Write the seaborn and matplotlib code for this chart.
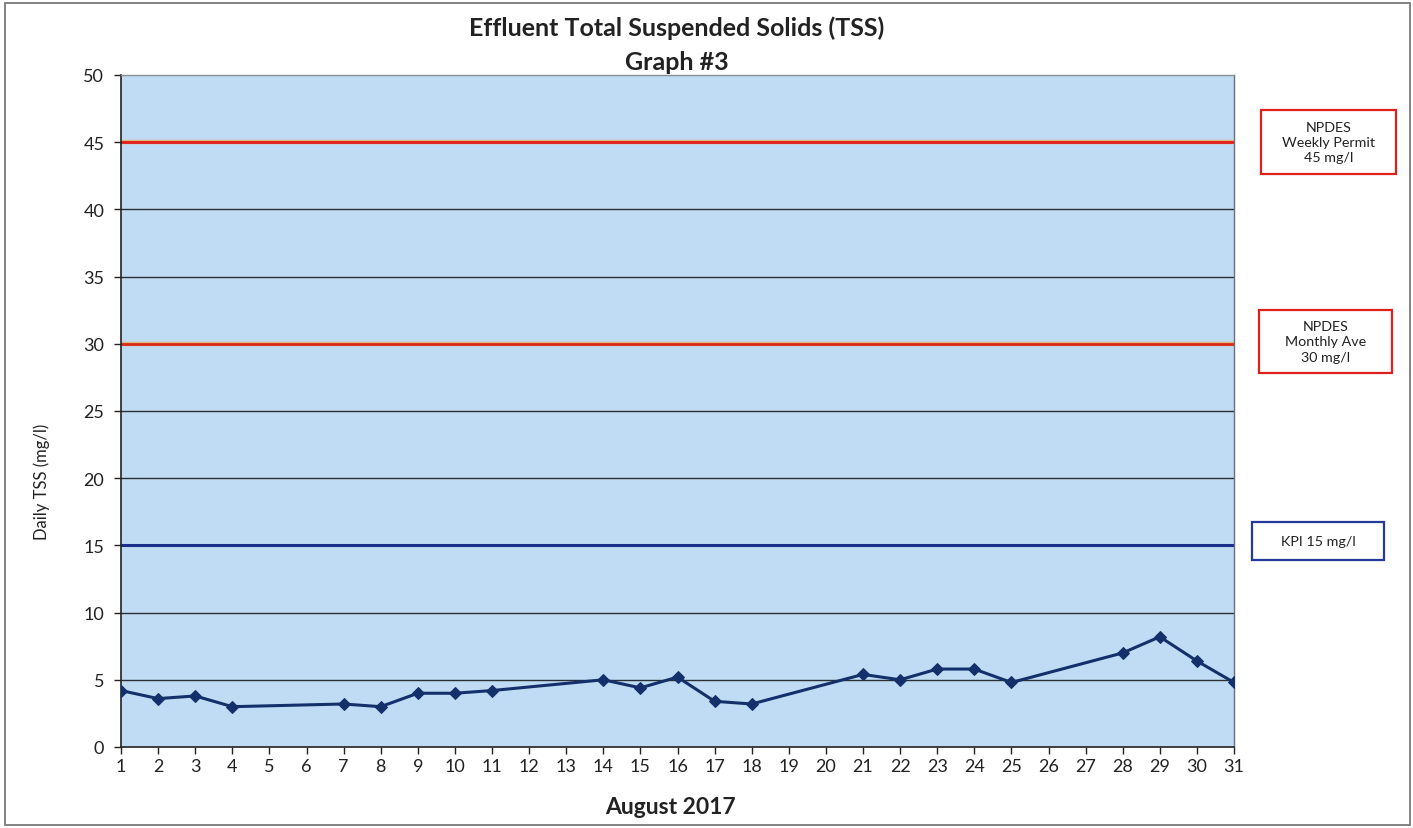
import numpy as np
import pandas as pd
import matplotlib
matplotlib.use("Agg")
import matplotlib.pyplot as plt
from matplotlib.patches import Rectangle
import seaborn as sns

# Daily effluent TSS readings, August 2017 (days without a sample are skipped)
days = [1, 2, 3, 4, 7, 8, 9, 10, 11, 14, 15, 16, 17, 18, 21, 22, 23, 24, 25, 28, 29, 30, 31]
tss = [4.2, 3.6, 3.8, 3.0, 3.2, 3.0, 4.0, 4.0, 4.2, 5.0, 4.4, 5.2, 3.4, 3.2,
       5.4, 5.0, 5.8, 5.8, 4.8, 7.0, 8.2, 6.4, 4.8]

# Reference limits
weekly_permit = 45
monthly_ave = 30
kpi = 15
limit_labels = ["NPDES\nWeekly Permit\n45 mg/l", "NPDES\nMonthly Ave\n30 mg/l", "KPI 15 mg/l"]

y_ticks = list(range(0, 51, 5))
x_ticks = list(range(1, 32))

sns.set_theme(style="ticks")
plt.rcParams["font.family"] = ["Lato", "DejaVu Sans"]

df = pd.DataFrame({"day": days, "tss": tss})

fig = plt.figure(figsize=(14.13, 8.29), dpi=100)
ax = fig.add_axes([121 / 1413, 1 - 748 / 829, (1234 - 121) / 1413, (748 - 76) / 829])
ax.set_facecolor("#bfdcf4")

# plain gridlines
for v in y_ticks:
    if v in (0, 50, weekly_permit, monthly_ave, kpi):
        continue
    ax.axhline(v, color="#2b2f33", lw=1.0, zorder=1)

# limit lines
ax.axhline(weekly_permit, color="#f0a030", lw=3.2, alpha=0.6, zorder=1.5)
ax.axhline(weekly_permit, color="#e3191c", lw=2.0, zorder=2)
ax.axhline(monthly_ave, color="#f0a030", lw=3.2, alpha=0.6, zorder=1.5)
ax.axhline(monthly_ave, color="#dc2a1a", lw=2.0, zorder=2)
ax.axhline(kpi, color="#1c2f8c", lw=2.2, zorder=2)

sns.lineplot(data=df, x="day", y="tss", ax=ax, color="#14306b", lw=2.2,
             marker="D", markersize=6, markeredgecolor="#14306b", zorder=5)

ax.set_xlim(1, 31)
ax.set_ylim(0, 50)
ax.set_xticks(x_ticks)
ax.set_yticks(y_ticks)
ax.tick_params(axis="both", direction="out", length=5, width=1, color="#222222",
               labelsize=13, labelcolor="#222222")
ax.tick_params(axis="x", pad=3)
ax.tick_params(axis="y", pad=7)
ax.set_xlabel("")
ax.set_ylabel("")
for side in ("left", "bottom"):
    ax.spines[side].set_color("#222222")
    ax.spines[side].set_linewidth(1.2)
ax.spines["top"].set_visible(True)
ax.spines["top"].set_color("#8a8f96")
ax.spines["top"].set_linewidth(1.0)
ax.spines["right"].set_visible(True)
ax.spines["right"].set_color("#6a7078")
ax.spines["right"].set_linewidth(1.0)

# titles and axis labels
fig.text(677 / 1413, 1 - 28 / 829, "Effluent Total Suspended Solids (TSS)",
         ha="center", va="center", fontsize=18, fontweight="bold", color="#222222")
fig.text(677 / 1413, 1 - 62 / 829, "Graph #3",
         ha="center", va="center", fontsize=18, fontweight="bold", color="#222222")
fig.text(670 / 1413, 1 - 808 / 829, "August 2017",
         ha="center", va="center", fontsize=16.5, fontweight="bold", color="#222222")
fig.text(42 / 1413, 1 - 482 / 829, "Daily TSS (mg/l)", rotation=90,
         ha="center", va="center", fontsize=12, color="#222222")

# limit annotation boxes
boxes = [
    (1261, 111, 1396, 175, "#e0201c"),
    (1259, 311, 1392, 374, "#e0201c"),
    (1252, 523, 1384, 561, "#233a9a"),
]
for (x0, y0, x1, y1, ec), label in zip(boxes, limit_labels):
    fig.patches.append(Rectangle((x0 / 1413, 1 - y1 / 829), (x1 - x0) / 1413, (y1 - y0) / 829,
                                 transform=fig.transFigure, fill=False, ec=ec, lw=1.6))
    fig.text((x0 + x1) / 2 / 1413, 1 - (y0 + y1) / 2 / 829, label, ha="center", va="center",
             fontsize=10.3, color="#222222", linespacing=1.35)

# outer frame
fig.patches.append(Rectangle((5 / 1413, 3 / 829), 1405 / 1413, 822 / 829,
                             transform=fig.transFigure, fill=False, ec="#7a7a7a", lw=1.3))

fig.savefig("out.png", dpi=100, facecolor="white")
